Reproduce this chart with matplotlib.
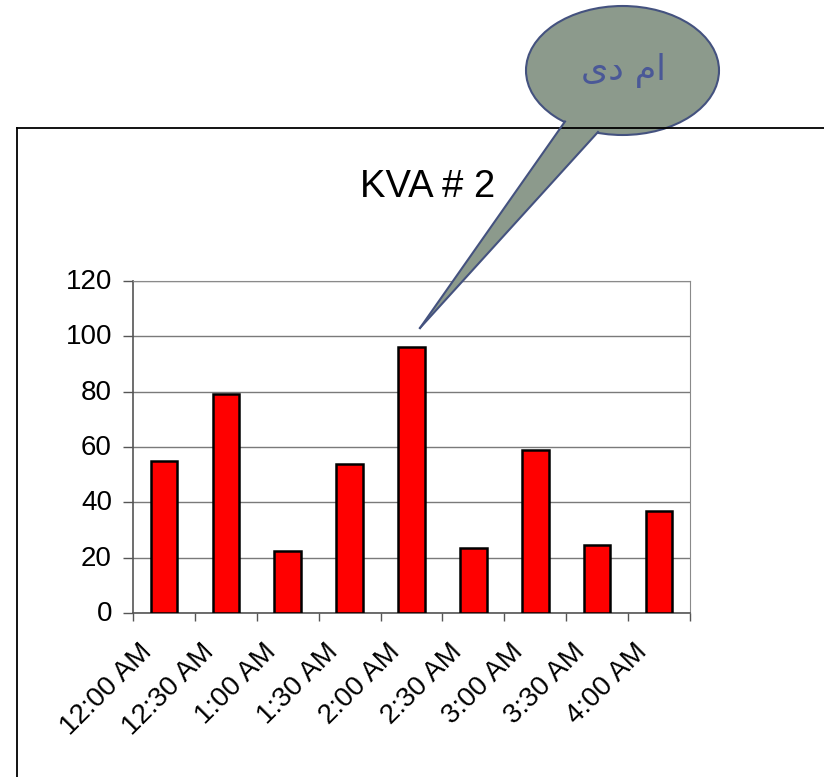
import matplotlib
matplotlib.use("Agg")
import matplotlib.pyplot as plt
from matplotlib.patches import Ellipse, Polygon
from matplotlib.lines import Line2D
from matplotlib.transforms import ScaledTranslation

plt.rcParams["font.family"] = ["Liberation Sans", "DejaVu Sans"]

times = ["12:00 AM", "12:30 AM", "1:00 AM", "1:30 AM", "2:00 AM",
         "2:30 AM", "3:00 AM", "3:30 AM", "4:00 AM"]
kva = [55, 79, 22.5, 54, 96, 23.5, 59, 24.5, 37]
y_ticks = [0, 20, 40, 60, 80, 100, 120]
title = "KVA # 2"
bubble_text = "ام دی"

W, H = 824, 777
fig = plt.figure(figsize=(W / 100, H / 100), dpi=100)
fig.patch.set_facecolor("white")

ax = fig.add_axes([133 / W, 1 - 613 / H, 557 / W, 332 / H])
x = list(range(len(times)))
ax.bar(x, kva, width=0.43, color="#ff0000", edgecolor="black", linewidth=1.8, zorder=3)

ax.set_xlim(-0.5, len(times) - 0.5)
ax.set_ylim(0, 120)
ax.set_yticks(y_ticks)
ax.grid(axis="y", color="#7a7a7a", linewidth=1, zorder=0)

# boundary ticks without labels, centered labels without ticks
ax.set_xticks([i - 0.5 for i in range(len(times) + 1)])
ax.set_xticklabels([])
ax.set_xticks(x, minor=True)
ax.set_xticklabels(times, minor=True, rotation=45, ha="right", va="top",
                   rotation_mode="anchor", fontsize=20)
ax.tick_params(axis="x", which="minor", length=0, pad=0)
ax.tick_params(axis="x", which="major", length=6, width=1, color="#555555")
ax.tick_params(axis="y", length=7.2, width=1, color="#555555", labelsize=20, pad=8)

shift = ScaledTranslation(-0.25, -0.26, fig.dpi_scale_trans)
for lbl in ax.get_xticklabels(minor=True):
    lbl.set_transform(lbl.get_transform() + shift)
lift = ScaledTranslation(0, 0.02, fig.dpi_scale_trans)
for lbl in ax.get_yticklabels():
    lbl.set_transform(lbl.get_transform() + lift)

for s in ["top", "right"]:
    ax.spines[s].set_color("#8a8a8a")
for s in ["left", "bottom"]:
    ax.spines[s].set_color("#555555")
    ax.spines[s].set_linewidth(1.2)

fig.text(428 / W, 1 - 197 / H, title, ha="center", va="baseline", fontsize=27.5)

# overlay in pixel coordinates for frame and callout
ov = fig.add_axes([0, 0, 1, 1], zorder=10)
ov.set_xlim(0, W)
ov.set_ylim(H, 0)
ov.axis("off")
ov.patch.set_alpha(0)

ov.add_line(Line2D([17, W], [128, 128], color="black", linewidth=1.3))
ov.add_line(Line2D([17, 17], [128, H], color="black", linewidth=1.3))

fill = "#8c9a8c"
edge = "#44527f"
ov.add_patch(Ellipse((622.5, 70.5), 193, 129, facecolor=fill, edgecolor=edge, linewidth=1.5))
tip = (420, 328)
left_pt = (565, 121.5)
right_pt = (598, 132)
ov.add_patch(Polygon([tip, left_pt, (585, 112), right_pt], closed=True,
                     facecolor=fill, edgecolor="none"))
ov.add_line(Line2D([tip[0], left_pt[0]], [tip[1], left_pt[1]], color=edge, linewidth=1.5))
ov.add_line(Line2D([tip[0], right_pt[0]], [tip[1], right_pt[1]], color=edge, linewidth=1.5))

# isolated letter forms only, so reversing gives the right-to-left order
ov.text(623, 70, bubble_text[::-1], ha="center", va="center", fontsize=25,
        color="#4a5897", family=["DejaVu Sans"])

fig.savefig("out.png", dpi=100, facecolor="white")
